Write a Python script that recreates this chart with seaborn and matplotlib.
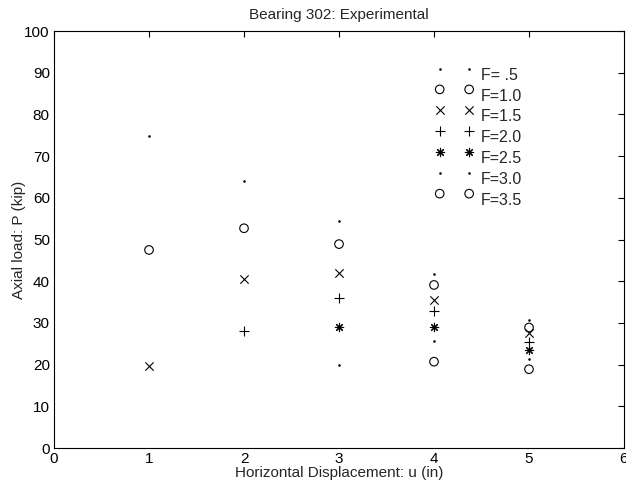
import matplotlib
matplotlib.use("Agg")
import matplotlib.pyplot as plt
import seaborn as sns
import pandas as pd

sns.set_style("white")
plt.rcParams['font.family'] = ['Liberation Sans', 'DejaVu Sans']

# Data: axial load P (kip) vs horizontal displacement u (in), per F value
labels = ["F= .5", "F=1.0", "F=1.5", "F=2.0", "F=2.5", "F=3.0", "F=3.5"]
x_f05 = [1, 2, 3, 4, 5]
y_f05 = [74.8, 64.1, 54.4, 41.7, 30.7]
x_f10 = [1, 2, 3, 4, 5]
y_f10 = [47.5, 52.7, 48.9, 39.1, 28.9]
x_f15 = [1, 2, 3, 4, 5]
y_f15 = [19.7, 40.6, 42.0, 35.5, 27.5]
x_f20 = [2, 3, 4, 5]
y_f20 = [28.1, 36.0, 32.9, 25.5]
x_f25 = [3, 4, 5]
y_f25 = [29.1, 28.9, 23.5]
x_f30 = [3, 4, 5]
y_f30 = [19.9, 25.7, 21.3]
x_f35 = [4, 5]
y_f35 = [20.7, 18.9]

# Hand-drawn legend block (two marker columns + labels)
legend_x1 = 4.06
legend_x2 = 4.37
legend_text_x = 4.49
legend_y = [91, 86, 81, 76, 71, 66, 61]

series_x = [x_f05, x_f10, x_f15, x_f20, x_f25, x_f30, x_f35]
series_y = [y_f05, y_f10, y_f15, y_f20, y_f25, y_f30, y_f35]

styles = [
    dict(marker='.', s=14, linewidth=0),
    dict(marker='o', s=38, facecolors='none', edgecolors='black', linewidth=0.8),
    dict(marker='x', s=36, linewidth=0.8),
    dict(marker='+', s=46, linewidth=0.8),
    dict(marker=(8, 2, 0), s=36, linewidth=0.8),
    dict(marker='.', s=14, linewidth=0),
    dict(marker='o', s=38, facecolors='none', edgecolors='black', linewidth=0.8),
]

fig = plt.figure(figsize=(6.26, 4.90), dpi=100)
ax = fig.add_axes([0.0863, 0.0857, 0.9105, 0.851])

for xs, ys, st, lab in zip(series_x, series_y, styles, labels):
    kw = dict(st)
    if 'facecolors' not in kw:
        kw['color'] = 'black'
    df = pd.DataFrame({"u": xs, "P": ys})
    sns.scatterplot(data=df, x="u", y="P", ax=ax, legend=False, **kw)

# legend block
for yv, st, lab in zip(legend_y, styles, labels):
    kw = dict(st)
    if 'facecolors' not in kw:
        kw['color'] = 'black'
    df = pd.DataFrame({"u": [legend_x1, legend_x2], "P": [yv, yv]})
    sns.scatterplot(data=df, x="u", y="P", ax=ax, legend=False, **kw)
    ax.text(legend_text_x, yv - 1.6, lab, fontsize=11.5, va='center', ha='left')

ax.set_xlim(0, 6)
ax.set_ylim(0, 100)
ax.set_xticks(range(0, 7))
ax.set_yticks(range(0, 101, 10))
ax.tick_params(direction='in', top=True, right=True, length=4, width=0.8,
               labelsize=11, colors='black', pad=3)
for sp in ax.spines.values():
    sp.set_visible(True)
    sp.set_color('black')
    sp.set_linewidth(0.8)

ax.set_xlabel("Horizontal Displacement: u (in)", fontsize=11, labelpad=0)
ax.set_ylabel("Axial load: P (kip)", fontsize=11, labelpad=-1)
ax.set_title("Bearing 302: Experimental", fontsize=11, pad=9)

fig.savefig("out.png", dpi=100)
